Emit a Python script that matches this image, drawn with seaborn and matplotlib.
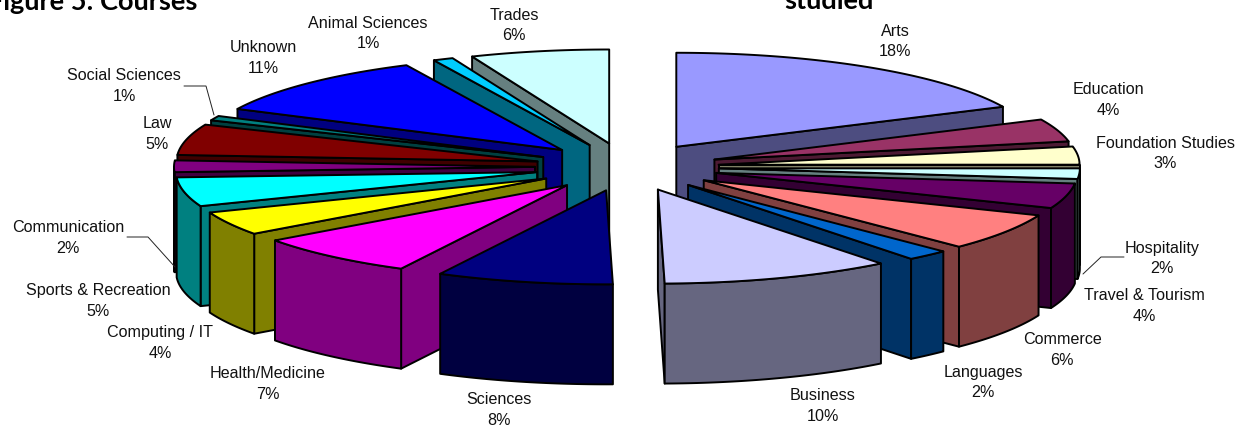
import numpy as np
import matplotlib
matplotlib.use("Agg")
import matplotlib.pyplot as plt
from matplotlib.patches import Polygon
import seaborn as sns

categories = ["Arts", "Education", "Foundation Studies", "Hospitality", "Travel & Tourism",
              "Commerce", "Languages", "Business", "Sciences", "Health/Medicine",
              "Computing / IT", "Sports & Recreation", "Communication", "Law",
              "Social Sciences", "Unknown", "Animal Sciences", "Trades"]
values = [18.0, 3.9, 3.1, 1.8, 4.3, 6.4, 1.9, 10.3, 7.9, 7.4, 4.1, 5.0, 2.0, 5.3, 0.8, 10.7, 0.9, 6.2]
colors = ["#9999FF", "#993366", "#FFFFCC", "#CCFFFF", "#660066", "#FF8080", "#0066CC", "#CCCCFF",
          "#000080", "#FF00FF", "#FFFF00", "#00FFFF", "#800080", "#800000", "#008080", "#0000FF",
          "#00CCFF", "#CCFFFF"]

# layout
CX, CY, RX, RY, EXPLODE, H = 627, 167, 361, 94, 92, 100
label_xy = {"Arts": (895, 31), "Education": (1108, 90), "Foundation Studies": (1165, 143),
            "Hospitality": (1162, 248), "Travel & Tourism": (1144, 296), "Commerce": (1062, 340),
            "Languages": (983, 372), "Business": (823, 396), "Sciences": (499, 400),
            "Health/Medicine": (268, 374), "Computing / IT": (160, 333),
            "Sports & Recreation": (98, 291), "Communication": (68, 228), "Law": (157, 124),
            "Social Sciences": (124, 76), "Unknown": (263, 48), "Animal Sciences": (368, 23),
            "Trades": (514, 15)}
leaders = [[(184, 86), (206, 86), (214, 115)],
           [(127, 237), (148, 237), (175, 267)],
           [(1124, 257), (1101, 257), (1083, 274)]]

sns.set_theme(style="white")
plt.rcParams["font.family"] = ["Liberation Sans", "DejaVu Sans"]

fig, ax = plt.subplots(figsize=(12.5, 4.32), dpi=100)
fig.subplots_adjust(0, 0, 1, 1)
ax.set_xlim(0, 1250)
ax.set_ylim(432, 0)
ax.axis("off")

total = sum(values)
edges = np.radians(np.cumsum([0] + values) / total * 360)


def shade(c):
    return tuple(0.5 * v for v in matplotlib.colors.to_rgb(c))


def face(points, color, z):
    ax.add_patch(Polygon(points, closed=True, facecolor=color, edgecolor="black",
                         linewidth=1.4, joinstyle="round", zorder=z))


order = sorted(range(len(values)),
               key=lambda i: -abs(np.degrees((edges[i] + edges[i + 1]) / 2) - 180))

for z, i in enumerate(order):
    t0, t1 = edges[i], edges[i + 1]
    mid = (t0 + t1) / 2
    ax_, ay_ = CX + EXPLODE * np.sin(mid), CY - EXPLODE * RY / RX * np.cos(mid)
    ts = np.linspace(t0, t1, 80)
    arc = np.column_stack([ax_ + RX * np.sin(ts), ay_ - RY * np.cos(ts)])
    apex = np.array([ax_, ay_])
    drop = np.array([0, H])
    base = 3 * z
    side = shade(colors[i])
    # radial cut faces
    if np.sin(t1) > 1e-9:
        face([apex, arc[-1], arc[-1] + drop, apex + drop], side, base)
    if np.sin(t0) < -1e-9:
        face([apex, arc[0], arc[0] + drop, apex + drop], side, base)
    # rim
    front = arc[np.cos(ts) < 0]
    if len(front) > 1:
        face(np.vstack([front, (front + drop)[::-1]]), side, base + 1)
    # top
    face(np.vstack([apex, arc]), colors[i], base + 2)

for pts in leaders:
    xs, ys = zip(*pts)
    ax.plot(xs, ys, color="#222222", lw=0.7, zorder=200)

for name, v in zip(categories, values):
    x, y = label_xy[name]
    ax.text(x, y, name, ha="center", va="center", fontsize=11.6, color="#111111", zorder=201)
    ax.text(x, y + 20.5, f"{round(v)}%", ha="center", va="center", fontsize=11.6, color="#111111", zorder=201)

ax.text(197, 10, "Figure 5: Courses", ha="right", va="baseline", fontsize=19.5,
        fontweight="bold", family="Lato", color="black", zorder=201)
ax.text(829, 9, "studied", ha="center", va="baseline", fontsize=19.5,
        fontweight="bold", family="Lato", color="black", zorder=201)

fig.savefig("out.png", dpi=100)
